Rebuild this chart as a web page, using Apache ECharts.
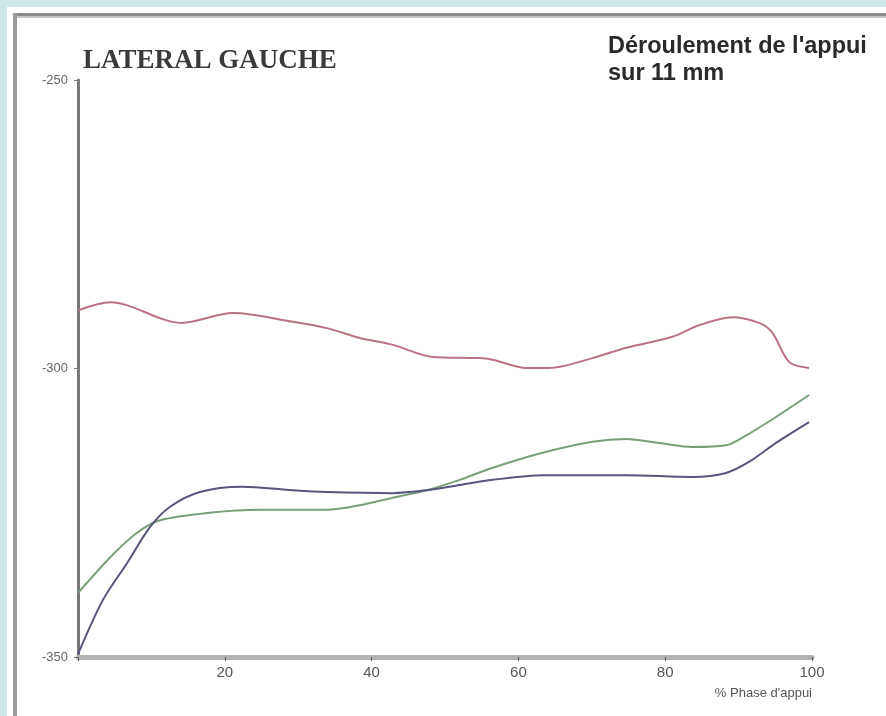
<!DOCTYPE html>
<html>
<head>
<meta charset="utf-8">
<script src="https://cdn.jsdelivr.net/npm/echarts@6/dist/echarts.min.js"></script>
<style>
html,body{margin:0;padding:0;background:#cfe6e7;}
#c{width:886px;height:716px;}
</style>
</head>
<body>
<div id="c"></div>
<script>
// Data
const redX   = [0, 4.4, 14.1, 21.1, 29.3, 33.9, 38.4, 42.9, 48.3, 54.7, 56.5, 61.1, 64.2, 70.1, 74.7, 81.0, 84.6, 89.1, 92.8, 94.6, 96.9, 99.6];
const redY   = [-289.9, -288.5, -292.1, -290.4, -291.9, -293.0, -294.7, -295.9, -298.0, -298.2, -298.5, -299.9, -299.9, -298.2, -296.4, -294.5, -292.5, -291.1, -292.1, -293.8, -298.9, -299.9];
const greenX = [0, 4.4, 8.0, 11.2, 18.0, 24.8, 33.9, 38.4, 42.9, 47.5, 52.0, 56.5, 63.3, 70.1, 74.7, 79.2, 83.7, 88.3, 90.5, 95.1, 99.6];
const greenY = [-338.9, -332.7, -328.5, -326.3, -325.0, -324.5, -324.5, -323.7, -322.4, -321.1, -319.3, -317.2, -314.6, -312.7, -312.2, -312.9, -313.6, -313.3, -312.0, -308.4, -304.6];
const blueX  = [0, 3.4, 6.7, 9.8, 12.5, 16.6, 22.4, 29.3, 33.9, 42.9, 47.5, 52.0, 56.5, 63.3, 74.7, 83.7, 88.3, 91.4, 95.1, 99.6];
const blueY  = [-349.5, -340.1, -333.7, -327.5, -324.0, -321.4, -320.5, -321.1, -321.4, -321.6, -321.1, -320.2, -319.3, -318.5, -318.5, -318.8, -318.1, -316.2, -312.9, -309.3];
const xTicks = [20, 40, 60, 80, 100];
const yTicks = [-350, -300, -250];
const titleText = 'LATERAL GAUCHE';
const noteText = "Déroulement de l'appui\nsur 11 mm";
const xName = "% Phase d'appui";

function pairs(xs, ys){ return xs.map((x,i)=>[x, ys[i]]); }

const chart = echarts.init(document.getElementById('c'), null, {renderer:'canvas'});
const mkSeries = (name, xs, ys, color) => ({
  name, type:'line', data: pairs(xs, ys), smooth:0.3, showSymbol:false,
  lineStyle:{color, width:2}, itemStyle:{color}, z:3
});
chart.setOption({
  backgroundColor:'transparent',
  animation:false,
  graphic:[
    {type:'rect', shape:{x:7,y:7,width:879,height:709}, style:{fill:'#ffffff'}, z:-10},
    {type:'rect', shape:{x:13,y:13,width:873,height:3}, style:{fill:'#8c8c8c'}, z:-9},
    {type:'rect', shape:{x:13,y:16,width:873,height:2}, style:{fill:'#c4c4c4'}, z:-9},
    {type:'rect', shape:{x:13,y:13,width:4,height:703}, style:{fill:'#9c9c9c'}, z:-9},
    {type:'text', x:812, y:687,
     style:{text:xName, fill:'#555', font:'13px "Liberation Sans Narrow", "Liberation Sans", sans-serif', textAlign:'right', textVerticalAlign:'top'}}
  ],
  title:[
    {text:titleText, left:78, top:43,
     textStyle:{fontFamily:'"Liberation Serif", serif', fontWeight:'bold', fontSize:27, color:'#3a3a3a'}},
    {text:noteText, left:603, top:28,
     textStyle:{fontFamily:'"Liberation Sans", sans-serif', fontWeight:'bold', fontSize:23.5, lineHeight:27, color:'#2a2a2a'}}
  ],
  grid:{left:78, right:74, top:80, bottom:59, containLabel:false},
  xAxis:{
    type:'value', min:0, max:100, interval:20,
    axisLine:{show:true, onZero:false, lineStyle:{color:'#b3b3b3', width:5}},
    axisTick:{show:true, length:4, inside:false, lineStyle:{color:'#555', width:1}},
    axisLabel:{color:'#555', fontSize:15, fontFamily:'"Liberation Sans Narrow", "Liberation Sans", sans-serif', margin:8,
      formatter:v => xTicks.includes(v) ? String(v) : ''},
    splitLine:{show:false}
  },
  yAxis:{
    type:'value', min:-350, max:-250, interval:50,
    axisLine:{show:true, onZero:false, lineStyle:{color:'#777', width:3}},
    axisTick:{show:true, length:4, lineStyle:{color:'#777', width:1}},
    axisLabel:{color:'#666', fontSize:13, fontFamily:'"Liberation Sans Narrow", "Liberation Sans", sans-serif', margin:10,
      formatter:v => yTicks.includes(v) ? String(v) : ''},
    splitLine:{show:false}
  },
  series:[
    mkSeries('rouge', redX, redY, '#bb7282'),
    mkSeries('vert', greenX, greenY, '#78a078'),
    mkSeries('bleu', blueX, blueY, '#55557e')
  ]
});
</script>
</body>
</html>
